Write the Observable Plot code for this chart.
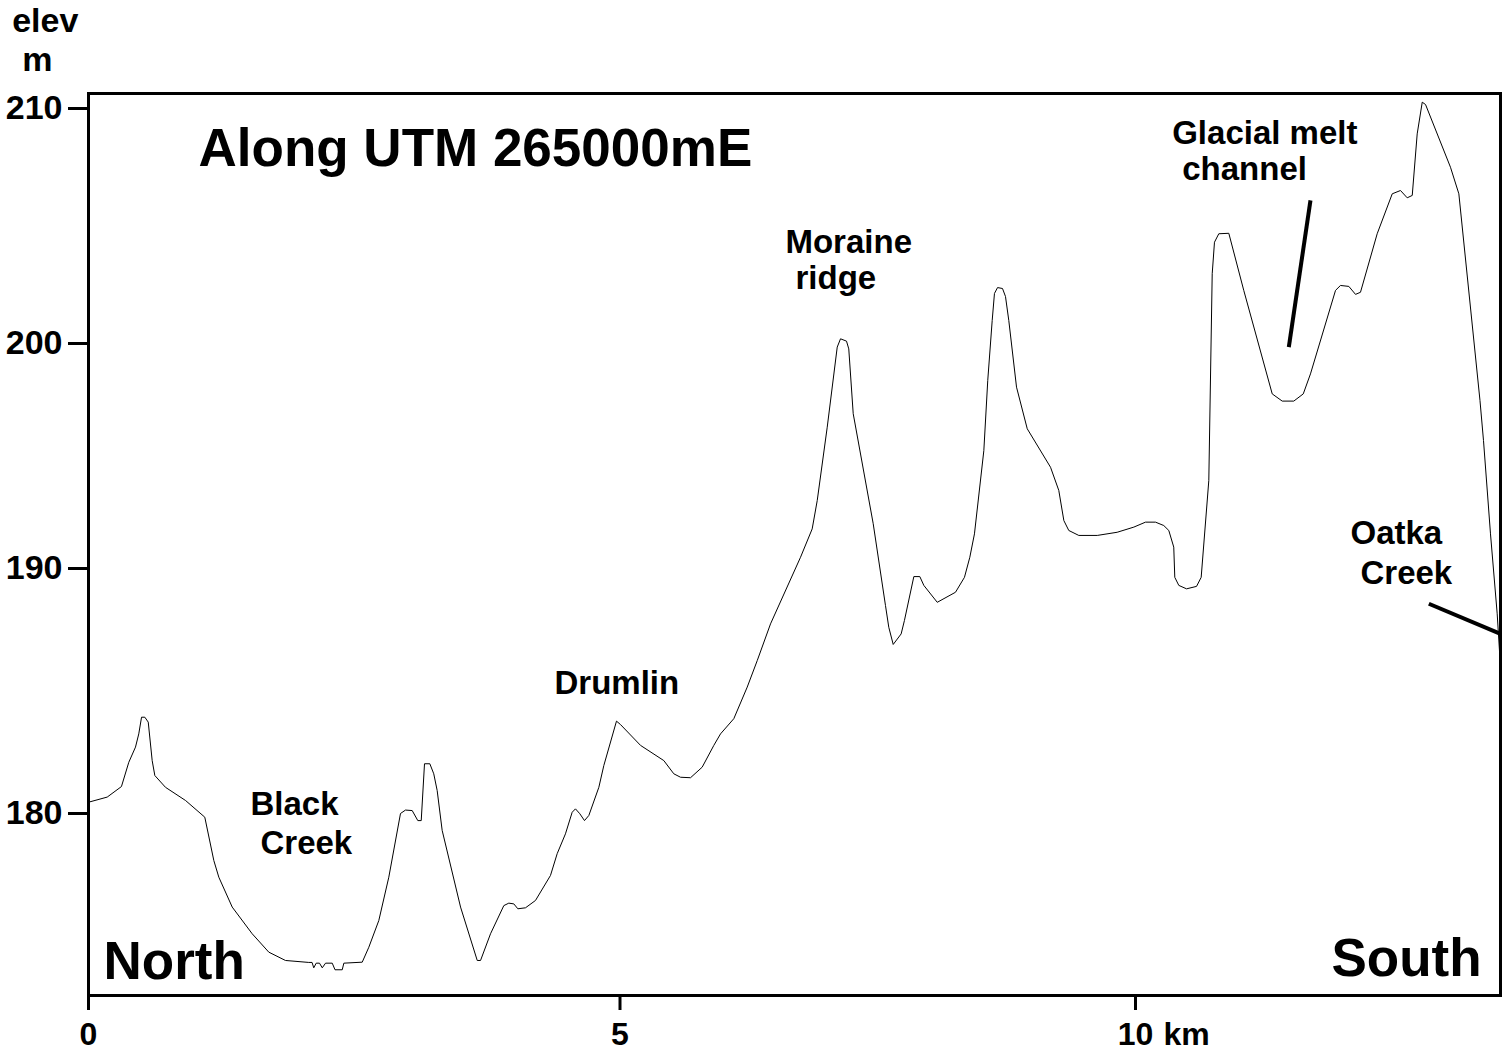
<!DOCTYPE html>
<html>
<head>
<meta charset="utf-8">
<script src="https://cdn.jsdelivr.net/npm/d3@7"></script>
<script src="https://cdn.jsdelivr.net/npm/@observablehq/plot@0.6"></script>
<style>
  html, body { margin: 0; padding: 0; background: #fff; }
</style>
</head>
<body>
<div id="chart"></div>
<script>
// Distance along the profile (km, from North) and elevation (m)
const kmValues = [
  0, 0.176, 0.310, 0.379, 0.442, 0.473, 0.499, 0.530, 0.562, 0.599,
  0.624, 0.724, 0.913, 1.094, 1.179, 1.226, 1.352, 1.540, 1.696, 1.853,
  2.072, 2.103, 2.119, 2.142, 2.173, 2.199, 2.230, 2.293, 2.319, 2.387,
  2.402, 2.575, 2.637, 2.731, 2.825, 2.935, 2.982, 3.045, 3.098, 3.130,
  3.161, 3.211, 3.248, 3.280, 3.327, 3.500, 3.657, 3.688, 3.782, 3.907,
  3.954, 4.001, 4.039, 4.111, 4.205, 4.346, 4.409, 4.487, 4.550, 4.581,
  4.622, 4.666, 4.707, 4.801, 4.848, 4.967, 5.005, 5.199, 5.425, 5.522,
  5.587, 5.684, 5.797, 5.910, 5.975, 6.104, 6.234, 6.331, 6.460, 6.751,
  6.864, 6.913, 7.010, 7.107, 7.139, 7.197, 7.219, 7.262, 7.456, 7.575,
  7.607, 7.650, 7.727, 7.759, 7.850, 7.908, 7.947, 8.077, 8.254, 8.341,
  8.393, 8.438, 8.529, 8.567, 8.610, 8.632, 8.662, 8.710, 8.739, 8.771,
  8.846, 8.950, 9.176, 9.256, 9.305, 9.353, 9.450, 9.629, 9.822, 9.984,
  10.097, 10.194, 10.274, 10.323, 10.371, 10.381, 10.420, 10.495, 10.592, 10.637,
  10.711, 10.744, 10.766, 10.808, 10.905, 11.050, 11.326, 11.423, 11.535, 11.627,
  11.697, 11.940, 11.988, 12.069, 12.134, 12.182, 12.344, 12.490, 12.570, 12.635,
  12.684, 12.732, 12.781, 12.813, 13.055, 13.136, 13.341, 13.375, 13.443, 13.508, 13.540
];
const elevValues = [
  180.46, 180.67, 181.10, 182.09, 182.71, 183.25, 183.93, 183.93, 183.73, 182.16,
  181.55, 181.07, 180.53, 179.85, 178.08, 177.40, 176.18, 175.09, 174.34, 174.00,
  173.92, 173.92, 173.70, 173.89, 173.89, 173.70, 173.89, 173.89, 173.62, 173.62,
  173.89, 173.93, 174.54, 175.63, 177.40, 180.00, 180.14, 180.12, 179.71, 179.71,
  182.03, 182.03, 181.62, 180.94, 179.31, 176.18, 174.00, 174.00, 175.09, 176.24,
  176.34, 176.31, 176.11, 176.15, 176.45, 177.47, 178.36, 179.17, 180.05, 180.19,
  179.99, 179.71, 179.92, 181.07, 181.96, 183.77, 183.63, 182.78, 182.16, 181.62,
  181.48, 181.46, 181.89, 182.78, 183.25, 183.87, 185.16, 186.24, 187.74, 190.50,
  191.76, 193.02, 196.28, 199.84, 200.20, 200.10, 199.76, 196.88, 191.99, 188.49,
  187.60, 186.90, 187.33, 187.88, 189.67, 189.67, 189.31, 188.62, 189.03, 189.64,
  190.50, 191.54, 195.24, 198.36, 200.98, 202.13, 202.38, 202.34, 202.00, 200.98,
  198.06, 196.21, 194.50, 193.47, 192.13, 191.69, 191.47, 191.47, 191.61, 191.84,
  192.06, 192.06, 191.91, 191.69, 190.95, 189.64, 189.31, 189.17, 189.27, 189.64,
  193.91, 202.97, 204.31, 204.67, 204.69, 202.26, 197.76, 197.44, 197.44, 197.76,
  198.65, 202.26, 202.47, 202.43, 202.09, 202.18, 204.67, 206.37, 206.51, 206.20,
  206.30, 208.92, 210.27, 210.17, 207.50, 206.37, 197.47, 195.69, 191.54, 188.15, 185.97
];

// Axis ticks
const xTicks = [0, 5, 10];
const yTicks = [180, 190, 200, 210];

// Calibration stops of the hand-drawn axes (values at frame edges and ticks)
const xStops = [0, 5, 10, 13.54];
const yStops = [172.57, 180, 190, 200, 210, 210.64];

// Feature labels (text, km, elevation of baseline)
const labelText = ["Black", "Creek", "Drumlin", "Moraine", "ridge", "Glacial melt", "channel", "Oatka", "Creek"];
const labelKm   = [1.524, 1.618, 4.384, 6.605, 6.702, 10.356, 10.453, 12.085, 12.182];
const labelElev = [179.92, 178.36, 184.89, 203.86, 202.30, 208.50, 206.94, 191.10, 189.38];

// Leader lines (from label to feature)
const leaderKm1   = [11.697, 12.845];
const leaderElev1 = [206.09, 188.56];
const leaderKm2   = [11.487, 13.54];
const leaderElev2 = [199.84, 187.33];

// Title and direction labels
const titleText = ["Along UTM 265000mE"];
const titleKm = [1.035];
const titleElev = [207.57];
const northText = ["North"];
const northKm = [0.141];
const northElev = [173.25];
const southText = ["South"];
const southKm = [13.356];
const southElev = [173.35];

const profile = kmValues.map((km, i) => ({km, elev: elevValues[i]}));
const labels = labelText.map((t, i) => ({t, km: labelKm[i], elev: labelElev[i]}));
const leaders = leaderKm1.map((k, i) => ({x1: k, y1: leaderElev1[i], x2: leaderKm2[i], y2: leaderElev2[i]}));
const titles = titleText.map((t, i) => ({t, km: titleKm[i], elev: titleElev[i]}));
const norths = northText.map((t, i) => ({t, km: northKm[i], elev: northElev[i]}));
const souths = southText.map((t, i) => ({t, km: southKm[i], elev: southElev[i]}));

// Layout
const W = 1502, H = 1051, ML = 88, MR = 2, MT = 93, MB = 56;
// Piecewise calibration of the (slightly uneven) hand-drawn axes
const xCal = d3.scaleLinear().domain(xStops).range([ML, 619.5, 1135, W - MR]);
const yCal = d3.scaleLinear().domain(yStops).range([H - MB, 813, 568, 343, 108, MT]);
const fmt = (cal) => (d) => String(Math.round(cal.invert(d)));

const bold = {fontWeight: "bold", fill: "#000"};

const chart = Plot.plot({
  width: W,
  height: H,
  marginLeft: ML,
  marginRight: MR,
  marginTop: MT,
  marginBottom: MB,
  style: {fontFamily: "'Liberation Sans', Arial, sans-serif", background: "#fff", color: "#000"},
  x: {transform: (v) => xCal(v), domain: [ML, W - MR]},
  y: {transform: (v) => yCal(v), domain: [H - MB, MT]},
  marks: [
    Plot.frame({stroke: "#000", strokeWidth: 3}),
    Plot.axisY({ticks: yTicks.map(yCal), anchor: "left", tickSize: 20, tickPadding: 6, strokeWidth: 3,
      fontSize: 34, fontWeight: "bold", label: null, tickFormat: fmt(yCal)}),
    Plot.axisX({ticks: xTicks.map(xCal), anchor: "bottom", tickSize: 15, tickPadding: 12, strokeWidth: 3,
      fontSize: 32, fontWeight: "bold", label: null, tickFormat: fmt(xCal)}),
    Plot.text(["km"], {x: [10], frameAnchor: "bottom", dx: 28, dy: 27, textAnchor: "start",
      lineAnchor: "top", fontSize: 32, ...bold}),
    Plot.text(["elev"], {frameAnchor: "top-left", dx: -76.3, dy: -61.3, textAnchor: "start",
      lineAnchor: "bottom", fontSize: 34, ...bold}),
    Plot.text(["m"], {frameAnchor: "top-left", dx: -66.3, dy: -23, textAnchor: "start",
      lineAnchor: "bottom", fontSize: 34, ...bold}),
    Plot.line(profile, {x: "km", y: "elev", stroke: "#000", strokeWidth: 1}),
    Plot.link(leaders, {x1: "x1", y1: "y1", x2: "x2", y2: "y2", stroke: "#000", strokeWidth: 4}),
    Plot.text(labels, {x: "km", y: "elev", text: "t", textAnchor: "start", lineAnchor: "bottom",
      fontSize: 33, ...bold}),
    Plot.text(titles, {x: "km", y: "elev", text: "t", textAnchor: "start", lineAnchor: "bottom",
      fontSize: 53, ...bold}),
    Plot.text(norths, {x: "km", y: "elev", text: "t", textAnchor: "start", lineAnchor: "bottom",
      fontSize: 53, ...bold}),
    Plot.text(souths, {x: "km", y: "elev", text: "t", textAnchor: "end", lineAnchor: "bottom",
      fontSize: 53, ...bold})
  ]
});
document.getElementById("chart").appendChild(chart);
</script>
</body>
</html>
